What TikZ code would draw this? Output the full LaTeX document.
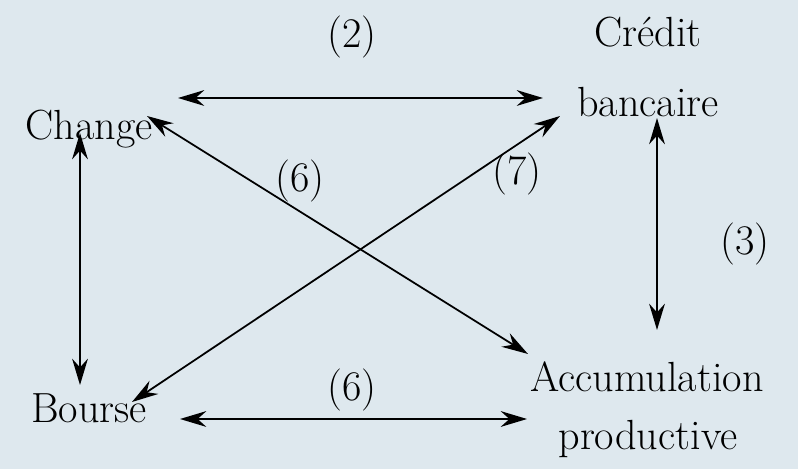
\documentclass[tikz,border=0pt]{standalone}
\usetikzlibrary{arrows.meta}
\definecolor{panelbg}{RGB}{222,232,238}

\begin{document}
\begin{tikzpicture}[x=0.02cm, y=-0.02cm,
    lbl/.style={font=\fontsize{24}{29}\selectfont, inner sep=0pt, anchor=base},
    num/.style={font=\fontsize{24}{29}\selectfont, inner sep=0pt},
    link/.style={{Stealth[length=15pt, width=9pt, inset=5pt]}-{Stealth[length=15pt, width=9pt, inset=5pt]}, line width=1pt}]

    %% Background
    \fill[panelbg] (0,0) rectangle (798,469);
    \useasboundingbox (0,0) rectangle (798,469);

    %% Markets
    \node[lbl] (credit) at (648,47) {Crédit};
    \node[lbl] (bancaire) at (648,117) {bancaire};
    \node[lbl] (change) at (89,140) {Change};
    \node[lbl] (bourse) at (89,422) {Bourse};
    \node[lbl] (accum) at (647,392) {Accumulation};
    \node[lbl] (productive) at (648,450) {productive};

    %% Arrow ends
    \coordinate (chR) at (178,98);
    \coordinate (crL) at (543,98);
    \coordinate (chB) at (80,133);
    \coordinate (boT) at (80,385);
    \coordinate (crB) at (657,118);
    \coordinate (acT) at (657,330);
    \coordinate (boR) at (180,419);
    \coordinate (acL) at (527,419);
    \coordinate (chD) at (147,116);
    \coordinate (acD) at (528,354);
    \coordinate (crD) at (560,116);
    \coordinate (boD) at (132,402);

    %% Links
    \draw[link] (chR) -- (crL);
    \draw[link] (chB) -- (boT);
    \draw[link] (crB) -- (acT);
    \draw[link] (boR) -- (acL);
    \draw[link] (chD) -- (acD);
    \draw[link] (crD) -- (boD);

    %% Link numbers
    \node[num] (n2) at (352,37) {(2)};
    \node[num] (n6a) at (300,181) {(6)};
    \node[num] (n7) at (517,174) {(7)};
    \node[num] (n3) at (745,244) {(3)};
    \node[num] (n6b) at (352,390) {(6)};
\end{tikzpicture}
\end{document}
